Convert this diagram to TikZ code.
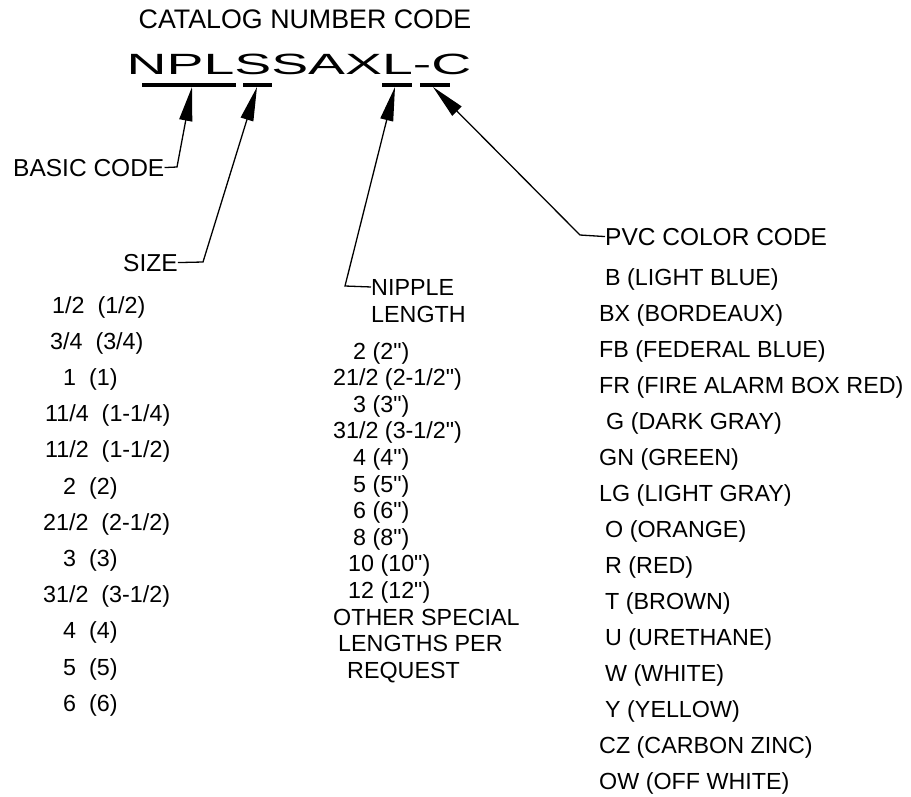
\documentclass[tikz,border=0pt]{standalone}
\usepackage{fontspec}
\setmainfont{Liberation Sans}[Ligatures=TeXOff]
\usetikzlibrary{arrows.meta}
\tikzset{
  lbl/.style={anchor=base west, inner sep=0pt, font=\fontsize{24.5}{28}\selectfont},
  item/.style={anchor=base west, inner sep=0pt, font=\fontsize{23.3}{27}\selectfont},
  codebar/.style={line width=3.5pt},
  leader/.style={line width=1.3pt, -{Triangle[length=34pt,width=13pt]}},
}
\begin{document}
\begin{tikzpicture}[x=1pt,y=-1pt]
\useasboundingbox (0,0) rectangle (911,796);
% title and code
\node[anchor=base, inner sep=0pt, font=\fontsize{26.8}{30}\selectfont] (title) at (305,28) {CATALOG NUMBER CODE};
\node[anchor=base, inner sep=0pt, font=\fontsize{29.3}{32}\selectfont] (code) at (299,74) {\scalebox{1.89}[1]{NPLSSAXL-C}};
% underline bars
\draw[codebar] (142,85) -- (236,85);
\draw[codebar] (243,85) -- (272,85);
\draw[codebar] (382,85) -- (412,85);
\draw[codebar] (420,85) -- (450,85);
\coordinate (t1) at (192,87);
\coordinate (t2) at (257,87);
\coordinate (t3) at (395,87);
\coordinate (t4) at (433,87);
% labels
\node[lbl] (basic) at (13,176) {BASIC CODE};
\node[lbl] (size) at (123,271) {SIZE};
\node[item] (nip1) at (371,295) {NIPPLE};
\node[item] (nip2) at (371,322) {LENGTH};
\node[lbl] (pvc) at (605,245) {PVC COLOR CODE};
% leader corners
\coordinate (c1) at (177,167);
\coordinate (c2) at (203,262);
\coordinate (c3) at (345,286);
\coordinate (c4) at (580,235);
\draw[leader] (basic.east) -- (c1) -- (t1);
\draw[leader] (size.east) -- (c2) -- (t2);
\draw[leader] (nip1.west) -- (c3) -- (t3);
\draw[leader] (pvc.west) -- (c4) -- (t4);
% size list
\foreach \t/\x [count=\i from 0] in {
  {1/2~~(1/2)}/52, {3/4~~(3/4)}/50, {1~~(1)}/63, {11/4~~(1-1/4)}/45,
  {11/2~~(1-1/2)}/45, {2~~(2)}/63, {21/2~~(2-1/2)}/43, {3~~(3)}/63,
  {31/2~~(3-1/2)}/43, {4~~(4)}/63, {5~~(5)}/63, {6~~(6)}/63}
  \node[item] (s\i) at (\x,{313+36.2*\i}) {\t};
% nipple list
\foreach \t/\x [count=\i from 0] in {
  {2 (2")}/353, {21/2 (2-1/2")}/333, {3 (3")}/353, {31/2 (3-1/2")}/333,
  {4 (4")}/353, {5 (5")}/353, {6 (6")}/353, {8 (8")}/353,
  {10 (10")}/348, {12 (12")}/348, {OTHER SPECIAL}/333, {LENGTHS PER}/338,
  {REQUEST}/347}
  \node[item] (n\i) at (\x,{359+26.6*\i}) {\t};
% pvc list
\foreach \t/\x [count=\i from 0] in {
  {B (LIGHT BLUE)}/605, {BX (BORDEAUX)}/599, {FB (FEDERAL BLUE)}/599,
  {FR (FIRE ALARM BOX RED)}/599, {G (DARK GRAY)}/606, {GN (GREEN)}/599,
  {LG (LIGHT GRAY)}/599, {O (ORANGE)}/605, {R (RED)}/605, {T (BROWN)}/605,
  {U (URETHANE)}/605, {W (WHITE)}/605, {Y (YELLOW)}/605,
  {CZ (CARBON ZINC)}/599, {OW (OFF WHITE)}/599}
  \node[item] (p\i) at (\x,{285+36.07*\i}) {\t};
\end{tikzpicture}
\end{document}
